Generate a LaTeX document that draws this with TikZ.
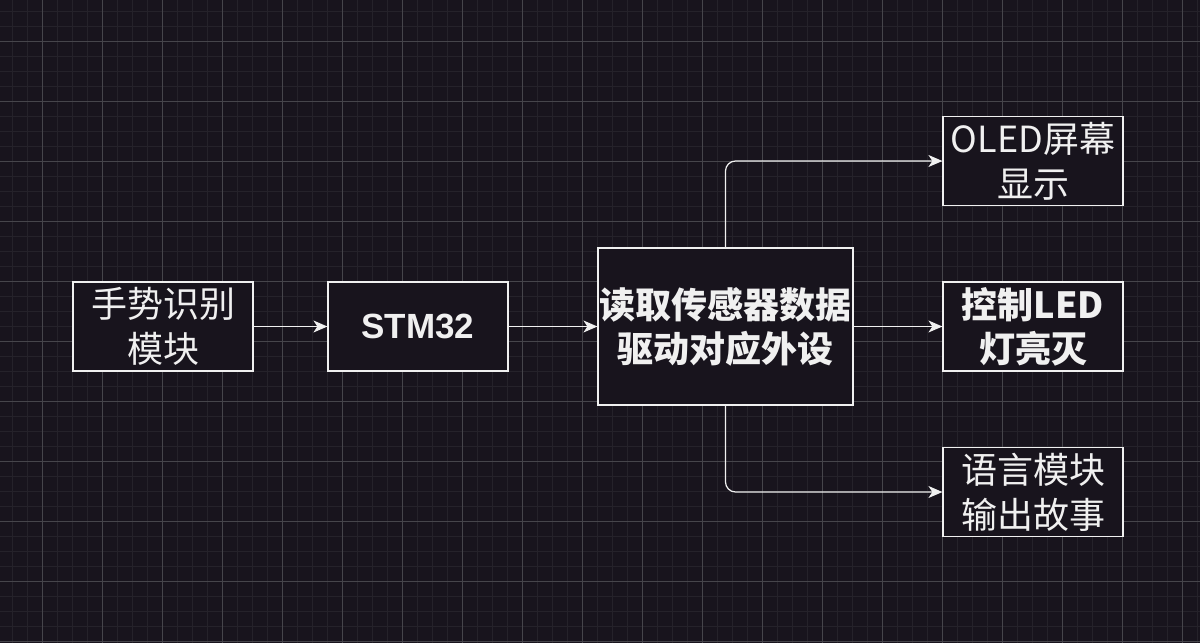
\documentclass[tikz,border=0pt]{standalone}
\usepackage{fontspec}
\newfontfamily\cjk{Noto Sans CJK SC}
\newfontfamily\arialf{Liberation Sans}
\usetikzlibrary{arrows.meta}
\definecolor{bg}{RGB}{24,20,29}
\definecolor{gridminor}{RGB}{37,34,42}
\definecolor{gridmajor}{RGB}{70,69,75}
\definecolor{fg}{RGB}{240,240,240}
\begin{document}
\begin{tikzpicture}[x=1pt,y=-1pt,
  box/.style={draw=fg, fill=bg, line width=1.2pt, text=fg, align=center,
    inner sep=0pt, minimum width=180pt, minimum height=89pt,
    font=\cjk\fontsize{36}{45}\selectfont},
  boldbox/.style={box, font=\cjk\bfseries\fontsize{36}{44}\selectfont},
  arr/.style={draw=fg, line width=1.2pt, rounded corners=10pt,
    -{Stealth[length=14pt,width=12pt,inset=4pt]}}]
\fill[bg] (0,0) rectangle (1200,643);
\useasboundingbox (0,0) rectangle (1200,643);
\foreach \x in {12,27,...,1197} \draw[gridminor, line width=1pt] (\x,0) -- (\x,643);
\foreach \y in {11,26,...,641} \draw[gridminor, line width=1pt] (0,\y) -- (1200,\y);
\foreach \x in {42,102,...,1182} \draw[gridmajor, line width=1pt] (\x,0) -- (\x,643);
\foreach \y in {41,101,...,641} \draw[gridmajor, line width=1pt] (0,\y) -- (1200,\y);

\node[box] (gest) at (163,326.5) {手势识别\\模块};
\node[box, font=\arialf\bfseries\fontsize{35}{42}\selectfont] (stm) at (418,326.5) {STM32};
\node[boldbox, minimum width=255pt, minimum height=157pt] (proc) at (725.5,326.5) {读取传感器数据\\驱动对应外设};
\node[box] (oled) at (1033,161) {OLED屏幕\\显示};
\node[boldbox] (led) at (1033,326.5) {控制LED\\灯亮灭};
\node[box] (voice) at (1033,492) {语言模块\\输出故事};

\draw[arr] (gest.east) -- (stm.west);
\draw[arr] (stm.east) -- (proc.west);
\draw[arr] (proc.east) -- (led.west);
\draw[arr] (proc.north) |- (oled.west);
\draw[arr] (proc.south) |- (voice.west);
\end{tikzpicture}
\end{document}
